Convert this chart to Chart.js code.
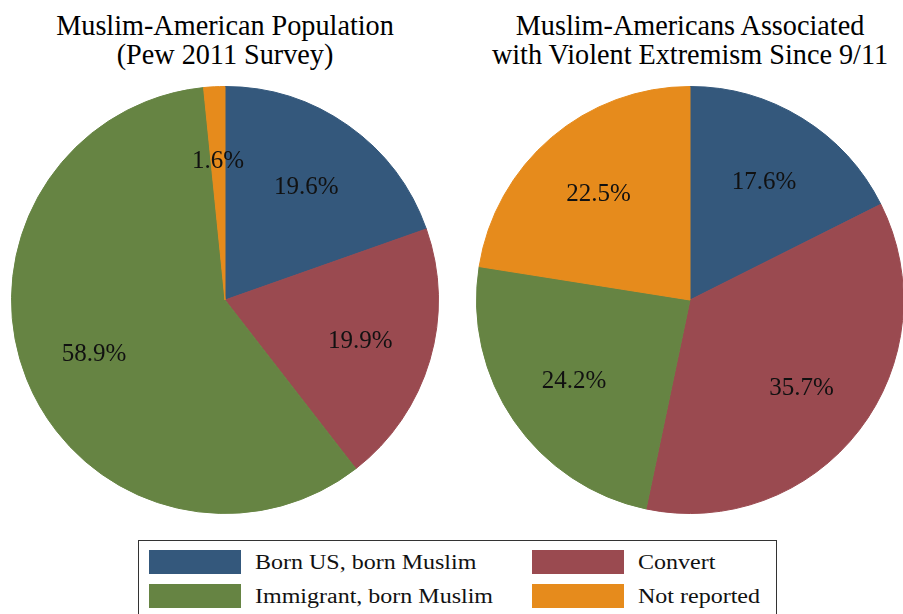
<!DOCTYPE html>
<html>
<head>
<meta charset="utf-8">
<script src="https://cdn.jsdelivr.net/npm/chart.js@4"></script>
<style>
  body { margin: 0; width: 903px; height: 614px; overflow: hidden; background: #fff; font-family: "Liberation Serif", Tinos, "Times New Roman", "DejaVu Serif", serif; }
  .title { position: absolute; top: 10px; width: 460px; text-align: center; font-size: 30px; line-height: 29px; color: #000; transform: scaleX(0.94); transform-origin: 50% 0; }
  .pie { position: absolute; top: 86px; width: 428px; height: 428px; }
  #legend { position: absolute; left: 138px; top: 540px; width: 639px; height: 80px; border: 1px solid #333; box-sizing: border-box; background: #fff; }
  .sw { position: absolute; width: 92px; height: 24px; }
  .txt { position: absolute; font-size: 20px; line-height: 24px; white-space: nowrap; color: #111; transform: scaleX(1.2); transform-origin: 0 0; }
</style>
</head>
<body>
<div class="title" style="left:-5px">Muslim-American Population<br>(Pew 2011 Survey)</div>
<div class="title" style="left:460px">Muslim-Americans Associated<br>with Violent Extremism Since 9/11</div>
<div class="pie" style="left:11px"><canvas id="pew"></canvas></div>
<div class="pie" style="left:476px"><canvas id="extreme"></canvas></div>
<div id="legend"></div>
<script>
const categories = ['Born US, born Muslim', 'Convert', 'Immigrant, born Muslim', 'Not reported']
const pewValues = [19.6, 19.9, 58.9, 1.6]
const extremeValues = [17.6, 35.7, 24.2, 22.5]
const colors = ['#34587c', '#9a4a50', '#668443', '#e68b1c']
const serif = '"Liberation Serif", Tinos, "Times New Roman", "DejaVu Serif", serif'

// percent labels inside slices
const pctLabels = {
  id: 'pct_labels',
  afterDatasetsDraw: (chart) => {
    const ctx = chart.ctx
    const vals = chart.data.datasets[0].data
    ctx.save()
    ctx.font = '25px ' + serif
    ctx.fillStyle = '#111'
    ctx.textAlign = 'center'
    ctx.textBaseline = 'middle'
    chart.getDatasetMeta(0).data.forEach((arc, i) => {
      const p = arc.getProps(['x', 'y', 'startAngle', 'endAngle', 'outerRadius'], true)
      const mid = (p.startAngle + p.endAngle) / 2
      const r = p.outerRadius * 0.66
      ctx.fillText(vals[i].toFixed(1) + '%', p.x + Math.cos(mid) * r, p.y + Math.sin(mid) * r + 2)
    })
    ctx.restore()
  }
}

function makePie(id, values) {
  new Chart(document.getElementById(id).getContext('2d'), {
    type: 'pie',
    data: {
      labels: categories,
      datasets: [{
        data: values,
        backgroundColor: colors,
        borderColor: colors,
        borderWidth: 1
      }]
    },
    options: {
      responsive: true,
      maintainAspectRatio: false,
      animation: false,
      layout: { padding: 0 },
      plugins: { legend: { display: false }, tooltip: { enabled: false } }
    },
    plugins: [pctLabels]
  })
}

makePie('pew', pewValues)
makePie('extreme', extremeValues)

// legend, two columns (swatch left/top inside the box)
const legend = document.getElementById('legend')
const spots = [[10, 9], [393, 9], [10, 43], [393, 43]]
categories.forEach((c, i) => {
  const sw = document.createElement('div')
  sw.className = 'sw'
  sw.style.left = spots[i][0] + 'px'
  sw.style.top = spots[i][1] + 'px'
  sw.style.background = colors[i]
  legend.appendChild(sw)
  const t = document.createElement('div')
  t.className = 'txt'
  t.style.left = (spots[i][0] + 106) + 'px'
  t.style.top = (spots[i][1] + 0) + 'px'
  t.textContent = c
  legend.appendChild(t)
})
</script>
</body>
</html>
